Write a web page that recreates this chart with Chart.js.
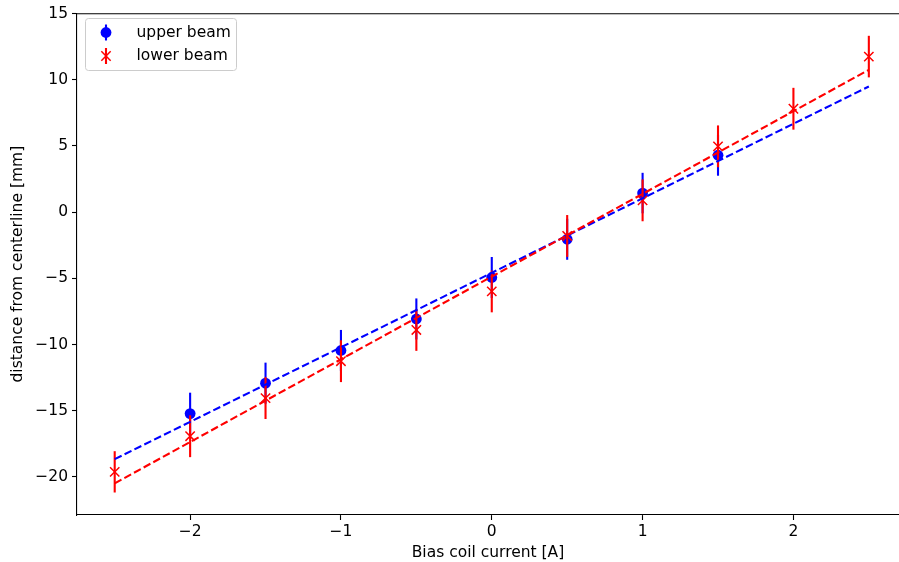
<!DOCTYPE html>
<html>
<head>
<meta charset="utf-8">
<script src="https://cdn.jsdelivr.net/npm/chart.js@4"></script>
<style>
  html, body { margin: 0; padding: 0; background: #fff; overflow: hidden; }
</style>
</head>
<body>
<canvas id="beamChart" width="899" height="562"></canvas>
<script>
// measured bias currents and beam positions
const currentUpper = [-2, -1.5, -1, -0.5, 0, 0.5, 1, 1.5];
const upperBeam = [-15.22, -12.92, -10.45, -8.07, -4.94, -2.05, 1.44, 4.3];
const upperErr = [1.58, 1.55, 1.55, 1.55, 1.55, 1.55, 1.53, 1.55];

const currentLower = [-2.5, -2, -1.5, -1, -0.5, 0, 0.5, 1, 1.5, 2, 2.5];
const lowerBeam = [-19.62, -16.93, -14.05, -11.26, -8.9, -5.99, -1.8, 0.89, 4.97, 7.81, 11.75];
const lowerErr = [1.56, 1.58, 1.58, 1.58, 1.58, 1.58, 1.58, 1.58, 1.58, 1.58, 1.57];

// linear fits (end points)
const fitCurrent = [-2.5, 2.5];
const upperFit = [-18.66, 9.49];
const lowerFit = [-20.49, 10.75];

const xTicks = [-2, -1, 0, 1, 2];
const yTicks = [-20, -15, -10, -5, 0, 5, 10, 15];

const FONT = "'DejaVu Sans', sans-serif";
const FONT_SIZE = 15.5;

function toPoints(xs, ys) {
  return xs.map((x, i) => ({ x: x, y: ys[i] }));
}

const errorBars = {
  id: "errorBars",
  beforeDatasetDraw(chart, args) {
    const ds = chart.data.datasets[args.index];
    if (!ds.errors) return;
    const xs = chart.scales.x;
    const ys = chart.scales.y;
    const ctx = chart.ctx;
    ctx.save();
    ctx.strokeStyle = ds.borderColor;
    ctx.lineWidth = 2.1;
    ds.data.forEach((p, i) => {
      const px = xs.getPixelForValue(p.x);
      ctx.beginPath();
      ctx.moveTo(px, ys.getPixelForValue(p.y - ds.errors[i]));
      ctx.lineTo(px, ys.getPixelForValue(p.y + ds.errors[i]));
      ctx.stroke();
    });
    ctx.restore();
  },
};

const frameAndLegend = {
  id: "frameAndLegend",
  afterDraw(chart) {
    const ctx = chart.ctx;
    const a = chart.chartArea;
    ctx.save();
    // top spine (right spine falls outside the picture)
    ctx.strokeStyle = "#000";
    ctx.lineWidth = 1.1;
    ctx.beginPath();
    ctx.moveTo(a.left, a.top + 0.5);
    ctx.lineTo(a.right, a.top + 0.5);
    ctx.stroke();

    // legend box
    const bx = 85.5, by = 18.5, bw = 151, bh = 52, r = 3;
    ctx.beginPath();
    ctx.moveTo(bx + r, by);
    ctx.arcTo(bx + bw, by, bx + bw, by + bh, r);
    ctx.arcTo(bx + bw, by + bh, bx, by + bh, r);
    ctx.arcTo(bx, by + bh, bx, by, r);
    ctx.arcTo(bx, by, bx + bw, by, r);
    ctx.closePath();
    ctx.fillStyle = "rgba(255,255,255,0.8)";
    ctx.fill();
    ctx.strokeStyle = "#cccccc";
    ctx.lineWidth = 1;
    ctx.stroke();

    const entries = chart.data.datasets.filter((d) => d.errors);
    entries.forEach((d, i) => {
      const cy = 32.5 + i * 23.5;
      const cx = 106;
      ctx.strokeStyle = d.borderColor;
      ctx.lineWidth = 2.1;
      ctx.beginPath();
      ctx.moveTo(cx, cy - 8);
      ctx.lineTo(cx, cy + 8);
      ctx.stroke();
      if (d.pointStyle === "circle") {
        ctx.fillStyle = d.backgroundColor;
        ctx.beginPath();
        ctx.arc(cx, cy, d.pointRadius, 0, Math.PI * 2);
        ctx.fill();
      } else {
        const h = d.pointRadius * Math.SQRT1_2;
        ctx.lineWidth = d.pointBorderWidth;
        ctx.beginPath();
        ctx.moveTo(cx - h, cy - h);
        ctx.lineTo(cx + h, cy + h);
        ctx.moveTo(cx - h, cy + h);
        ctx.lineTo(cx + h, cy - h);
        ctx.stroke();
      }
      ctx.fillStyle = "#000";
      ctx.font = FONT_SIZE + "px " + FONT;
      ctx.textBaseline = "middle";
      ctx.textAlign = "left";
      ctx.fillText(d.label, 136.5, cy);
    });
    ctx.restore();
  },
};

const ctx = document.getElementById("beamChart").getContext("2d");

window.beamChart = new Chart(ctx, {
  type: "scatter",
  data: {
    datasets: [
      {
        label: "upper beam",
        data: toPoints(currentUpper, upperBeam),
        errors: upperErr,
        borderColor: "#0000ff",
        backgroundColor: "#0000ff",
        pointStyle: "circle",
        pointRadius: 5.4,
        pointBorderWidth: 0,
        showLine: false,
        order: 4,
      },
      {
        label: "lower beam",
        data: toPoints(currentLower, lowerBeam),
        errors: lowerErr,
        borderColor: "#ff0000",
        backgroundColor: "#ff0000",
        pointStyle: "crossRot",
        pointRadius: 6.6,
        pointBorderWidth: 1.5,
        showLine: false,
        order: 3,
      },
      {
        label: "upper fit",
        data: toPoints(fitCurrent, upperFit),
        borderColor: "#0000ff",
        borderWidth: 2.1,
        borderDash: [7.7, 3.3],
        pointRadius: 0,
        showLine: true,
        order: 2,
      },
      {
        label: "lower fit",
        data: toPoints(fitCurrent, lowerFit),
        borderColor: "#ff0000",
        borderWidth: 2.1,
        borderDash: [7.7, 3.3],
        pointRadius: 0,
        showLine: true,
        order: 1,
      },
    ],
  },
  options: {
    responsive: false,
    animation: false,
    devicePixelRatio: 1,
    layout: {
      autoPadding: false,
      padding: { top: 12, left: 0, right: 0, bottom: 0 },
    },
    plugins: {
      legend: { display: false },
      tooltip: { enabled: false },
    },
    scales: {
      x: {
        type: "linear",
        min: -2.75,
        max: 2.70,
        afterBuildTicks: (scale) => {
          scale.ticks = xTicks.map((v) => ({ value: v }));
        },
        afterFit: (scale) => {
          scale.height = 47;
          scale.paddingLeft = 0;
          scale.paddingRight = 0;
        },
        border: { display: true, color: "#000", width: 1.1 },
        grid: {
          display: true,
          drawOnChartArea: false,
          drawTicks: true,
          tickLength: 5,
          tickWidth: 1.1,
          tickColor: "#000",
        },
        ticks: {
          color: "#000",
          padding: 3,
          font: { family: FONT, size: FONT_SIZE },
          callback: (v) => String(v).replace("-", "\u2212"),
        },
        title: {
          display: true,
          text: "Bias coil current [A]",
          color: "#000",
          font: { family: FONT, size: FONT_SIZE },
          padding: { top: 0, bottom: 0 },
        },
      },
      y: {
        type: "linear",
        min: -22.88,
        max: 15.02,
        afterBuildTicks: (scale) => {
          scale.ticks = yTicks.map((v) => ({ value: v }));
        },
        afterFit: (scale) => {
          scale.width = 77;
        },
        border: { display: true, color: "#000", width: 1.1 },
        grid: {
          display: true,
          drawOnChartArea: false,
          drawTicks: true,
          tickLength: 5,
          tickWidth: 1.1,
          tickColor: "#000",
        },
        ticks: {
          color: "#000",
          padding: 4,
          font: { family: FONT, size: FONT_SIZE },
          callback: (v) => String(v).replace("-", "\u2212"),
        },
        title: {
          display: true,
          text: "distance from centerline [mm]",
          color: "#000",
          font: { family: FONT, size: FONT_SIZE },
          padding: { top: 9, bottom: 0 },
        },
      },
    },
  },
  plugins: [errorBars, frameAndLegend],
});
</script>
</body>
</html>
